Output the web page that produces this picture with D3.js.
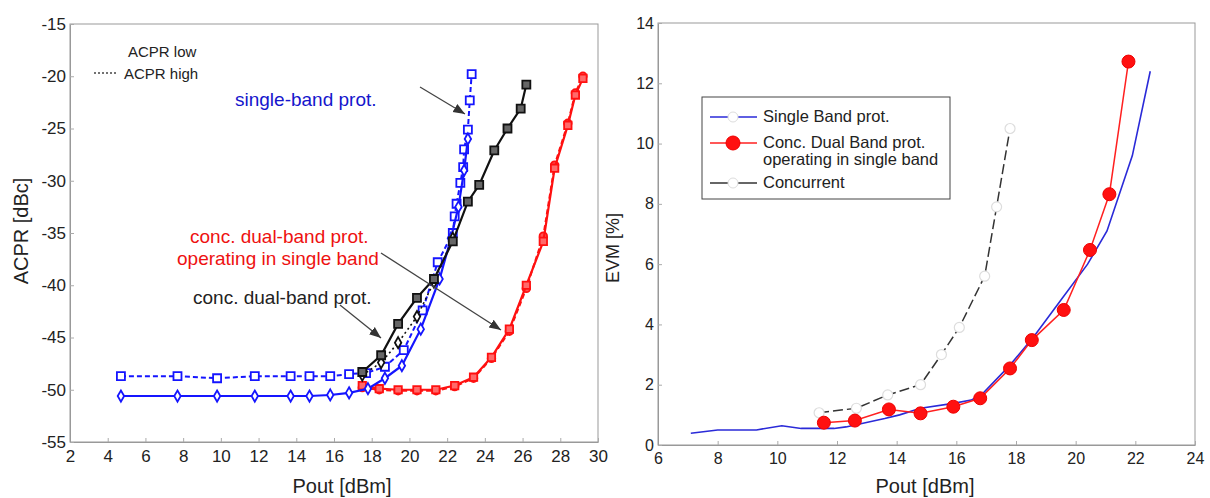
<!DOCTYPE html>
<html>
<head>
<meta charset="utf-8">
<script src="https://cdn.jsdelivr.net/npm/d3@7"></script>
<style>
  body { margin: 0; background: #fff; }
  text { font-family: "Liberation Sans", Arial, sans-serif; }
</style>
</head>
<body>
<div id="chart"></div>
<script>
// ---- left panel: ACPR vs Pout ----
const sbLowP  = [4.7, 7.7, 9.8, 11.8, 13.7, 14.7, 15.8, 16.8, 17.8, 18.7, 19.6, 20.6, 21.6, 22.2, 22.6, 22.9, 23.1];
const sbLowA  = [-50.6, -50.6, -50.6, -50.6, -50.6, -50.6, -50.5, -50.3, -49.9, -48.9, -47.7, -44.2, -39.4, -35.5, -32.5, -29.0, -26.0];
const sbHighP = [4.7, 7.7, 9.8, 11.8, 13.7, 14.7, 15.8, 16.8, 17.7, 18.7, 19.7, 20.7, 21.5, 22.3, 22.4, 22.5, 22.7, 22.85, 22.9, 23.1, 23.2, 23.3];
const sbHighA = [-48.7, -48.7, -48.9, -48.7, -48.7, -48.7, -48.7, -48.5, -48.4, -47.8, -46.2, -42.4, -37.8, -35.0, -33.4, -32.2, -30.2, -28.7, -27.0, -25.1, -22.3, -19.8];
const cdLowP  = [17.5, 18.5, 19.4, 20.4, 21.3, 22.3, 23.1, 23.7, 24.5, 25.2, 25.9, 26.2];
const cdLowA  = [-48.3, -46.7, -43.7, -41.2, -39.4, -35.8, -32.0, -30.4, -27.1, -25.0, -23.1, -20.8];
const cdHighP = [17.5, 18.5, 19.4, 20.4, 21.3, 22.3];
const cdHighA = [-48.6, -47.4, -45.5, -43.0, -39.7, -35.5];
const csLowP  = [17.5, 18.4, 19.4, 20.4, 21.4, 22.4, 23.4, 24.35, 25.3, 26.2, 27.1, 27.7, 28.4, 28.8, 29.2];
const csLowA  = [-49.6, -49.9, -50.0, -50.0, -50.0, -49.6, -48.8, -46.9, -44.2, -40.0, -35.8, -28.8, -24.7, -21.8, -20.2];
const csHighA = [-49.8, -50.0, -50.1, -50.1, -50.1, -49.7, -48.9, -47.0, -44.4, -40.3, -35.3, -28.5, -24.5, -21.6, -20.0];
const leftXTicks = [2, 4, 6, 8, 10, 12, 14, 16, 18, 20, 22, 24, 26, 28, 30];
const leftYTicks = [-55, -50, -45, -40, -35, -30, -25, -20, -15];

// ---- right panel: EVM vs Pout ----
const sbEvmP = [7.1, 8.0, 9.3, 10.15, 10.8, 11.9, 12.3, 13.6, 14.1, 14.8, 15.9, 16.5, 16.9, 17.8, 18.6, 19.5, 20.4, 21.05, 21.9, 22.5];
const sbEvmV = [0.39, 0.5, 0.5, 0.64, 0.55, 0.55, 0.6, 0.88, 1.0, 1.22, 1.38, 1.49, 1.72, 2.65, 3.6, 4.8, 6.0, 7.1, 9.6, 12.4];
const cdEvmP = [11.56, 12.6, 13.74, 14.8, 15.9, 16.8, 17.8, 18.53, 19.6, 20.48, 21.13, 21.77];
const cdEvmV = [0.74, 0.81, 1.18, 1.05, 1.27, 1.55, 2.54, 3.48, 4.48, 6.47, 8.32, 12.72];
const ccEvmP = [11.4, 12.65, 13.7, 14.8, 15.5, 16.1, 16.95, 17.35, 17.8];
const ccEvmV = [1.07, 1.22, 1.66, 2.0, 3.0, 3.9, 5.6, 7.9, 10.5];
const rightXTicks = [6, 8, 10, 12, 14, 16, 18, 20, 22, 24];
const rightYTicks = [0, 2, 4, 6, 8, 10, 12, 14];

const zip = (a, b) => a.map((v, i) => [v, b[i]]);

const svg = d3.select("#chart").append("svg")
    .attr("width", 1210)
    .attr("height", 498)
    .style("background", "#fff");

svg.append("defs").append("marker")
    .attr("id", "arrow")
    .attr("viewBox", "0 0 10 10")
    .attr("refX", 10).attr("refY", 5)
    .attr("markerWidth", 9).attr("markerHeight", 9)
    .attr("orient", "auto")
    .append("path")
    .attr("d", "M0,1 L10,5 L0,9 Z")
    .attr("fill", "#333");

function frame(x, y, xt, yt, fs) {
    const [x0, x1] = x.range(), [y0, y1] = y.range();
    svg.append("rect")
        .attr("x", x0).attr("y", y1)
        .attr("width", x1 - x0).attr("height", y0 - y1)
        .attr("fill", "#fff")
        .attr("stroke", "#999");
    const gx = svg.append("g")
        .attr("transform", `translate(0,${y0})`)
        .call(d3.axisBottom(x).tickValues(xt).tickFormat(d => String(d))
            .tickSizeInner(-4).tickSizeOuter(0).tickPadding(8));
    const gy = svg.append("g")
        .attr("transform", `translate(${x0},0)`)
        .call(d3.axisLeft(y).tickValues(yt).tickFormat(d => String(d))
            .tickSizeInner(-4).tickSizeOuter(0).tickPadding(4));
    [gx, gy].forEach(g => {
        g.select(".domain").attr("stroke", "#999");
        g.selectAll(".tick line").attr("stroke", "#aaa");
        g.selectAll(".tick text")
            .attr("fill", "#222")
            .style("font-size", fs + "px")
            .style("font-family", "'Liberation Sans', Arial, sans-serif");
    });
}

// ============ LEFT ============
const xL = d3.scaleLinear().domain([2, 30]).range([70, 598]);
const yL = d3.scaleLinear().domain([-55, -15]).range([442, 24]);
frame(xL, yL, leftXTicks, leftYTicks, 17);

const lineL = d3.line().x(d => xL(d[0])).y(d => yL(d[1]));

function seriesL(pts, color, dash, symbol, size, fill, width) {
    svg.append("path")
        .datum(pts)
        .attr("fill", "none")
        .attr("stroke", color)
        .attr("stroke-width", width)
        .attr("stroke-dasharray", dash)
        .attr("d", lineL);
    svg.append("g").selectAll("path")
        .data(pts)
        .join("path")
        .attr("transform", d => `translate(${xL(d[0])},${yL(d[1])})`)
        .attr("d", d3.symbol().type(symbol).size(size))
        .attr("fill", fill)
        .attr("stroke", color)
        .attr("stroke-width", 1.8);
}

seriesL(zip(csLowP, csHighA), "#ff1010", "5,3", d3.symbolCircle, 45, "#ff5050", 2);
seriesL(zip(csLowP, csLowA), "#ff1010", null, d3.symbolSquare, 55, "#ff6a6a", 2.2);
seriesL(zip(sbHighP, sbHighA), "#1515ff", "5,3", d3.symbolSquare, 64, "#fff", 2);
seriesL(zip(sbLowP, sbLowA), "#1515ff", null, d3.symbolDiamond, 36, "#fff", 2.2);
seriesL(zip(cdHighP, cdHighA), "#111", "2,3", d3.symbolDiamond, 36, "#fff", 1.6);
seriesL(zip(cdLowP, cdLowA), "#111", null, d3.symbolSquare, 64, "#666", 2.2);

// legend
svg.append("line")
    .attr("x1", 94).attr("x2", 116).attr("y1", 73).attr("y2", 73)
    .attr("stroke", "#444").attr("stroke-width", 1.5).attr("stroke-dasharray", "2,2");
svg.append("text").attr("x", 128).attr("y", 57).text("ACPR low")
    .style("font-size", "15px").attr("fill", "#222");
svg.append("text").attr("x", 124).attr("y", 79).text("ACPR high")
    .style("font-size", "15px").attr("fill", "#222");

// annotations
svg.append("text").attr("x", 235).attr("y", 106).text("single-band prot.")
    .style("font-size", "19px").attr("fill", "#1515cc");
svg.append("text").attr("x", 190).attr("y", 243).text("conc. dual-band prot.")
    .style("font-size", "19px").attr("fill", "#ee1111");
svg.append("text").attr("x", 177).attr("y", 265).text("operating in single band")
    .style("font-size", "19px").attr("fill", "#ee1111");
svg.append("text").attr("x", 193).attr("y", 304).text("conc. dual-band prot.")
    .style("font-size", "19px").attr("fill", "#222");

const arrows = [[420, 87, 465, 114], [381, 253, 501, 330], [340, 305, 381, 338]];
arrows.forEach(a => {
    svg.append("line")
        .attr("x1", a[0]).attr("y1", a[1]).attr("x2", a[2]).attr("y2", a[3])
        .attr("stroke", "#444").attr("stroke-width", 1.3)
        .attr("marker-end", "url(#arrow)");
});

svg.append("text")
    .attr("transform", "translate(28,231) rotate(-90)")
    .attr("text-anchor", "middle")
    .text("ACPR [dBc]")
    .style("font-size", "20px").attr("fill", "#222");
svg.append("text")
    .attr("x", 342).attr("y", 493)
    .attr("text-anchor", "middle")
    .text("Pout [dBm]")
    .style("font-size", "20px").attr("fill", "#222");

// ============ RIGHT ============
const xR = d3.scaleLinear().domain([6, 24]).range([658, 1195]);
const yR = d3.scaleLinear().domain([0, 14]).range([445, 23]);
frame(xR, yR, rightXTicks, rightYTicks, 16);

const lineR = d3.line().x(d => xR(d[0])).y(d => yR(d[1]));

svg.append("path")
    .datum(zip(ccEvmP, ccEvmV))
    .attr("fill", "none").attr("stroke", "#333").attr("stroke-width", 1.5)
    .attr("stroke-dasharray", "10,4")
    .attr("d", lineR);
svg.append("g").selectAll("circle")
    .data(zip(ccEvmP, ccEvmV))
    .join("circle")
    .attr("cx", d => xR(d[0])).attr("cy", d => yR(d[1]))
    .attr("r", 5)
    .attr("fill", "#fff").attr("stroke", "#ddd").attr("stroke-width", 1.2);

svg.append("path")
    .datum(zip(sbEvmP, sbEvmV))
    .attr("fill", "none").attr("stroke", "#2a2ad8").attr("stroke-width", 1.6)
    .attr("d", lineR);

svg.append("path")
    .datum(zip(cdEvmP, cdEvmV))
    .attr("fill", "none").attr("stroke", "#ff2020").attr("stroke-width", 1.5)
    .attr("d", lineR);
svg.append("g").selectAll("circle")
    .data(zip(cdEvmP, cdEvmV))
    .join("circle")
    .attr("cx", d => xR(d[0])).attr("cy", d => yR(d[1]))
    .attr("r", 6.5)
    .attr("fill", "#ff1010").attr("stroke", "#e00").attr("stroke-width", 1);

// legend box
const lg = svg.append("g").attr("transform", "translate(702,97)");
lg.append("rect").attr("width", 248).attr("height", 102)
    .attr("fill", "#fff").attr("stroke", "#444").attr("stroke-width", 1);
const lgItems = [
    { y: 20, color: "#2a2ad8", marker: "open", lines: ["Single Band prot."] },
    { y: 46, color: "#ff2020", marker: "red", lines: ["Conc. Dual Band prot.", "operating in single band"] },
    { y: 86, color: "#333", marker: "open", lines: ["Concurrent"] }
];
lgItems.forEach(it => {
    lg.append("line").attr("x1", 8).attr("x2", 55).attr("y1", it.y).attr("y2", it.y)
        .attr("stroke", it.color).attr("stroke-width", 1.5);
    lg.append("circle").attr("cx", 31).attr("cy", it.y)
        .attr("r", it.marker === "red" ? 7 : 5)
        .attr("fill", it.marker === "red" ? "#ff1010" : "#fff")
        .attr("stroke", it.marker === "red" ? "#e00" : "#ddd");
    it.lines.forEach((t, i) => {
        lg.append("text").attr("x", 61).attr("y", it.y + 5 + i * 17).text(t)
            .style("font-size", "16.5px").attr("fill", "#222");
    });
});

svg.append("text")
    .attr("transform", "translate(619,248) rotate(-90)")
    .attr("text-anchor", "middle")
    .text("EVM [%]")
    .style("font-size", "18px").attr("fill", "#222");
svg.append("text")
    .attr("x", 925).attr("y", 493)
    .attr("text-anchor", "middle")
    .text("Pout [dBm]")
    .style("font-size", "20px").attr("fill", "#222");
</script>
</body>
</html>
